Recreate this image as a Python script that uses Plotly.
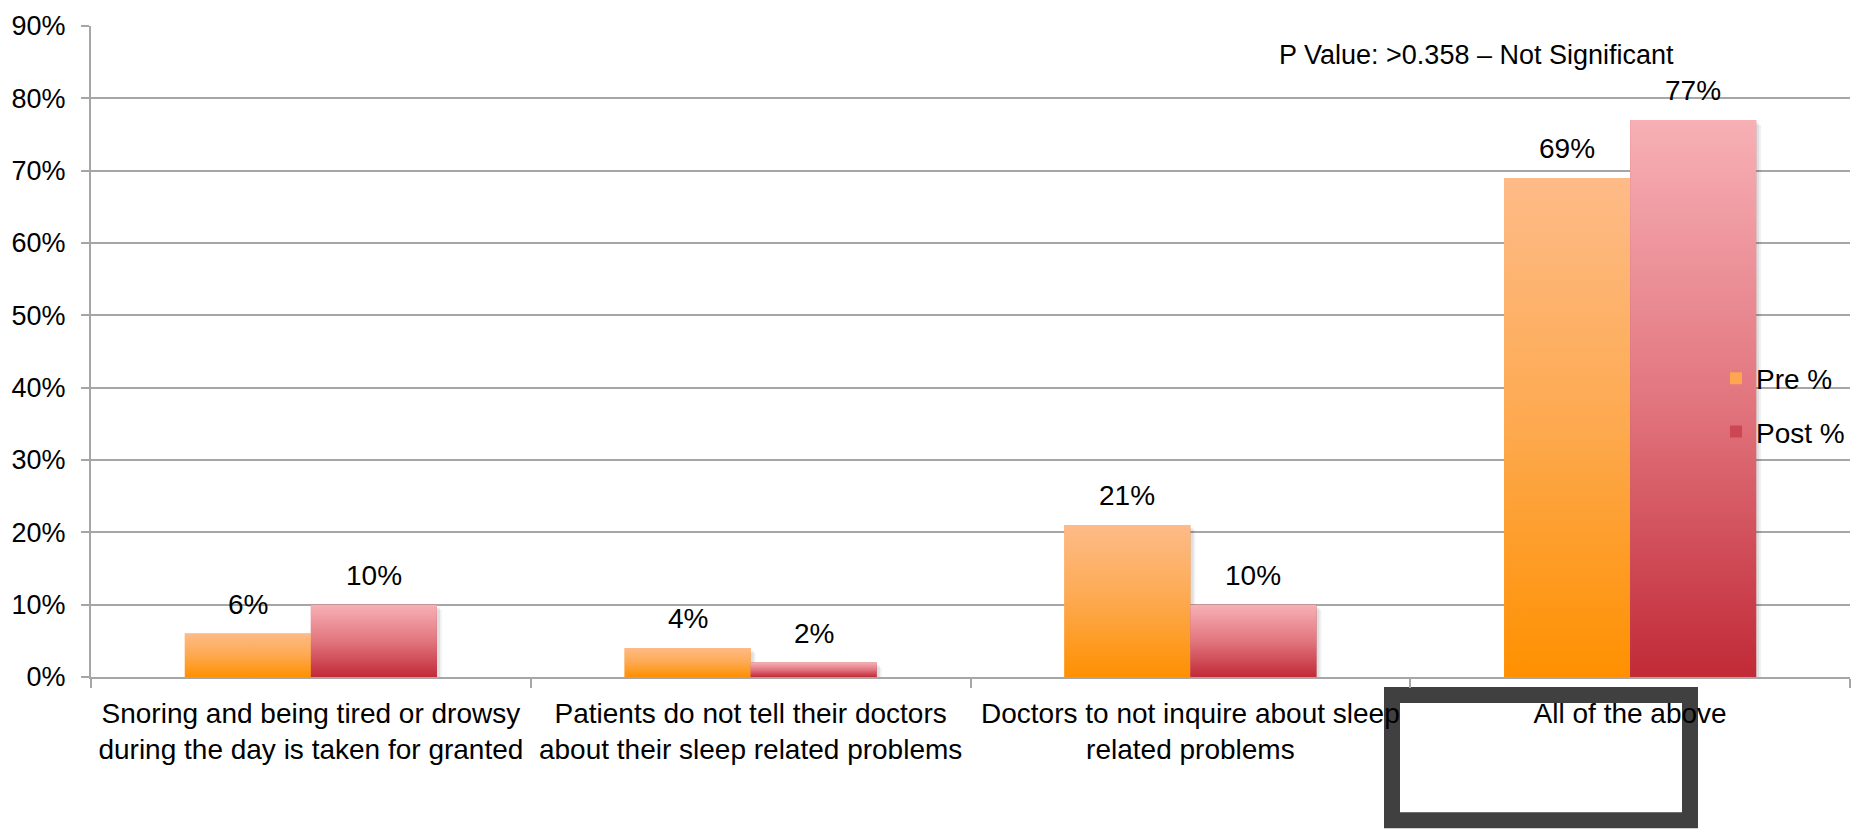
import plotly.graph_objects as go

# Survey responses before and after the session
categories = [
    "Snoring and being tired or drowsy<br>during the day is taken for granted",
    "Patients do not tell their doctors<br>about their sleep related problems",
    "Doctors to not inquire about sleep<br>related problems",
    "All of the above",
]
pre_pct = [0.06, 0.04, 0.21, 0.69]
post_pct = [0.10, 0.02, 0.10, 0.77]
series_names = ["Pre %", "Post %"]
y_ticks = [0, 0.1, 0.2, 0.3, 0.4, 0.5, 0.6, 0.7, 0.8, 0.9]

FONT = "Liberation Sans, Arial, sans-serif"
FIG_W, FIG_H = 1861, 829
ML, MR, MT, MB = 91, 11, 23, 152
BAR_W = 0.2866

plot_w = FIG_W - ML - MR
plot_h = FIG_H - MT - MB
Y_MAX = 0.9
DX = 1.0 * 4 / plot_w      # one screen pixel in x data units
DY = Y_MAX / plot_h        # one screen pixel in y data units

# vertical gradients: dark at the base, light at the top of each bar
pre_scale = [[0, "#FF9000"], [0.5, "#FDA94F"], [1, "#FEBB88"]]
post_scale = [[0, "#C12A37"], [0.5, "#E2767F"], [1, "#F7B0B5"]]

xs = list(range(len(categories)))

fig = go.Figure()

series = [
    (series_names[0], pre_pct, -BAR_W, "#FDA64F", pre_scale),
    (series_names[1], post_pct, 0.0, "#CC4753", post_scale),
]

for name, vals, off, solid, scale in series:
    fig.add_trace(go.Bar(
        x=xs, y=vals, name=name, width=BAR_W, offset=off,
        marker=dict(color=solid, line=dict(width=0)),
        legendgroup=name, hoverinfo="skip",
    ))

# soft drop shadow to the right of each bar
for name, vals, off, solid, scale in series:
    for xi, v in zip(xs, vals):
        for shift, alpha in ((5, 0.05), (3, 0.08)):
            x0 = xi + off + shift * DX
            x1 = xi + off + BAR_W + shift * DX
            y1 = max(v - shift * DY, 0)
            fig.add_trace(go.Scatter(
                x=[x0, x1, x1, x0, x0], y=[0, 0, y1, y1, 0],
                mode="lines", line=dict(width=0), fill="toself",
                fillcolor=f"rgba(0,0,0,{alpha})",
                showlegend=False, hoverinfo="skip",
            ))

# gradient faces laid over each bar
for name, vals, off, solid, scale in series:
    for xi, v in zip(xs, vals):
        x0 = xi + off
        x1 = x0 + BAR_W
        fig.add_trace(go.Scatter(
            x=[x0, x1, x1, x0, x0], y=[0, 0, v, v, 0],
            mode="lines", line=dict(width=0), fill="toself",
            fillgradient=dict(type="vertical", colorscale=scale),
            showlegend=False, hoverinfo="skip",
        ))

# value labels above the bars
for name, vals, off, solid, scale in series:
    for xi, v in zip(xs, vals):
        fig.add_annotation(
            x=xi + off + BAR_W / 2, y=v, xref="x", yref="y",
            text=f"{round(v * 100)}%", showarrow=False,
            yanchor="bottom", yshift=12,
            font=dict(family=FONT, size=28, color="#000000"),
        )


def px_x(px):
    return (px - ML) / plot_w


def px_y(py):
    return (FIG_H - MB - py) / plot_h


fig.add_annotation(
    text="P Value: >0.358 \u2013 Not Significant",
    x=2.65, y=0.86, xref="x", yref="y", showarrow=False,
    font=dict(family=FONT, size=27, color="#000000"),
)

# framed box beneath the last category label
fig.add_shape(
    type="rect", xref="paper", yref="paper",
    x0=px_x(1392), x1=px_x(1690), y0=px_y(821), y1=px_y(695),
    line=dict(color="#404040", width=16), fillcolor="rgba(0,0,0,0)",
    layer="below",
)

fig.update_layout(
    width=FIG_W, height=FIG_H,
    margin=dict(l=ML, r=MR, t=MT, b=MB, pad=0),
    paper_bgcolor="#FFFFFF", plot_bgcolor="#FFFFFF",
    barmode="overlay",
    font=dict(family=FONT, size=28, color="#000000"),
    showlegend=True,
    legend=dict(
        x=px_x(1716), y=px_y(352), xanchor="left", yanchor="top",
        bgcolor="rgba(0,0,0,0)", font=dict(family=FONT, size=28),
        itemwidth=30, tracegroupgap=14, traceorder="grouped",
    ),
    xaxis=dict(
        range=[-0.5, 3.5], tickmode="array", tickvals=xs, ticktext=categories,
        ticks="", showgrid=False, zeroline=False,
        showline=True, linecolor="#A6A6A6", linewidth=2,
        ticklabelstandoff=10,
        tickfont=dict(family=FONT, size=28, color="#000000"),
        minor=dict(tickmode="array", tickvals=[-0.5, 0.5, 1.5, 2.5, 3.5],
                   ticks="outside", ticklen=9, tickcolor="#A6A6A6",
                   tickwidth=2, showgrid=False),
        fixedrange=True,
    ),
    yaxis=dict(
        range=[0, Y_MAX], tickmode="array", tickvals=y_ticks, tickformat=".0%",
        ticks="outside", ticklen=8, tickcolor="#A6A6A6", tickwidth=2,
        showgrid=True, gridcolor="#A6A6A6", gridwidth=2,
        showline=True, linecolor="#A6A6A6", linewidth=2, zeroline=False,
        ticklabelstandoff=10,
        tickfont=dict(family=FONT, size=27, color="#000000"),
        fixedrange=True,
    ),
)

fig.write_html("out.html")
